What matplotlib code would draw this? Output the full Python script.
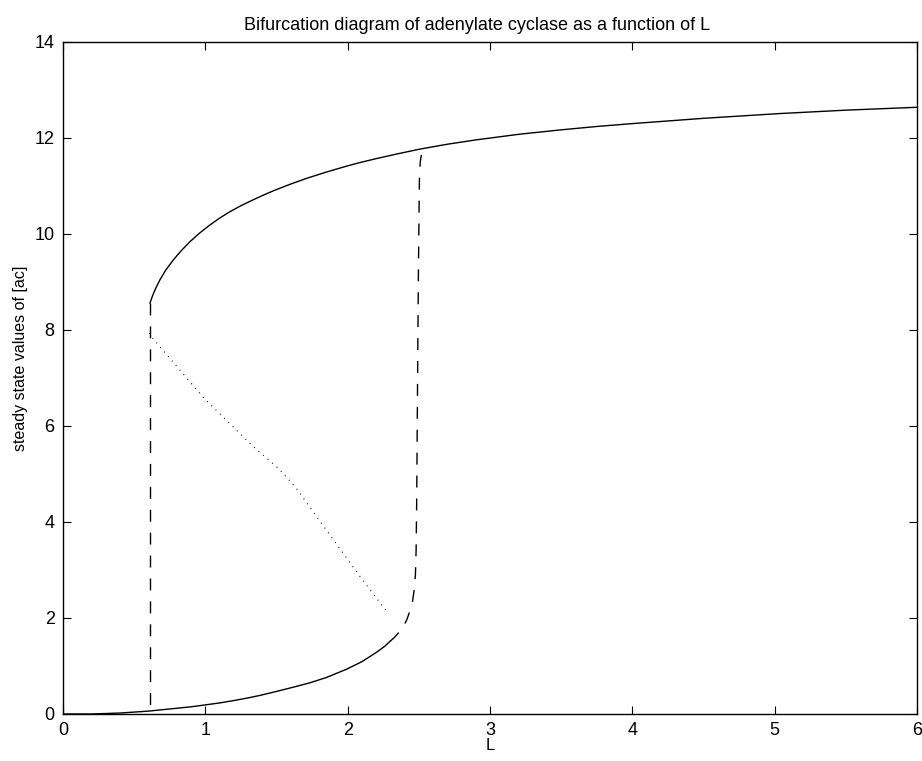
import numpy as np
import matplotlib
matplotlib.use('Agg')
import matplotlib.pyplot as plt

# Lower stable branch (solid)
L_low = [0.0, 0.2, 0.3, 0.4, 0.5, 0.6, 0.7, 0.8, 0.9, 1.0, 1.1, 1.2, 1.3,
         1.38, 1.5, 1.6, 1.735, 1.85, 1.99, 2.1, 2.2, 2.26, 2.3]
ac_low = [0.0, 0.0, 0.01, 0.02, 0.04, 0.06, 0.09, 0.12, 0.15, 0.19, 0.23,
          0.28, 0.335, 0.385, 0.47, 0.545, 0.65, 0.76, 0.93, 1.09, 1.28,
          1.41, 1.52]

# Upper stable branch (solid)
L_up = [0.611, 0.63, 0.65, 0.68, 0.72, 0.775, 0.83, 0.892, 0.96, 1.033,
        1.1, 1.17, 1.244, 1.32, 1.40, 1.478, 1.59, 1.712, 1.85, 2.0, 2.075,
        2.2, 2.35, 2.51, 2.7, 2.9, 3.21, 3.5, 3.75, 4.0, 4.5, 5.04, 5.5, 6.0]
ac_up = [8.56, 8.72, 8.86, 9.04, 9.24, 9.46, 9.65, 9.84, 10.02, 10.19,
         10.33, 10.46, 10.58, 10.69, 10.80, 10.90, 11.03, 11.16, 11.29,
         11.42, 11.48, 11.57, 11.67, 11.77, 11.87, 11.96, 12.08, 12.17,
         12.24, 12.30, 12.41, 12.51, 12.58, 12.64]

# Right jump (dashed), from the lower fold up to the upper branch
L_jump_r = [2.3, 2.33, 2.36, 2.39, 2.415, 2.44, 2.455, 2.468, 2.476, 2.481,
            2.485, 2.49, 2.497, 2.504, 2.51, 2.52, 2.532]
ac_jump_r = [1.52, 1.60, 1.70, 1.82, 1.96, 2.17, 2.33, 2.60, 2.90, 3.42,
             4.46, 6.5, 9.18, 11.13, 11.50, 11.69, 11.78]

# Left jump (dashed), vertical at the left fold
L_jump_l = [0.611, 0.611]
ac_jump_l = [8.56, 0.06]

# Unstable branch (dotted)
L_mid = [0.607, 0.635, 0.99, 1.337, 1.52, 1.64, 1.78, 2.10, 2.284]
ac_mid = [7.94, 7.81, 6.58, 5.57, 5.10, 4.70, 4.12, 2.81, 2.10]

plt.rcParams['font.family'] = ['Liberation Sans', 'DejaVu Sans']
plt.rcParams['lines.scale_dashes'] = False

fig = plt.figure(figsize=(9.22, 7.61), dpi=100)
ax = fig.add_axes([63/922, 47/761, 854/922, 672/761])

ax.plot(L_low, ac_low, color='k', lw=1.0)
ax.plot(L_up, ac_up, color='k', lw=1.0)
ax.plot(L_jump_r, ac_jump_r, color='k', lw=1.0, dashes=(8.6, 7.9))
ax.plot(L_jump_l, ac_jump_l, color='k', lw=1.0, dashes=(8.6, 7.9))
ax.plot(L_mid, ac_mid, color='k', lw=0.8, dashes=(0.7, 3.6))

ax.set_xlim(0, 6)
ax.set_ylim(0, 14)
ax.set_xticks(np.arange(0, 7, 1))
ax.set_yticks(np.arange(0, 15, 2))
ax.tick_params(direction='in', length=5.8, width=0.8, top=True, right=True,
               labelsize=13, pad=6)
for s in ax.spines.values():
    s.set_linewidth(1.0)

ax.set_xlabel('L', fontsize=12, labelpad=-1)
ax.set_ylabel('steady state values of [ac]', fontsize=11.5)
ax.yaxis.set_label_coords(-0.041, 0.53)
ax.set_title('Bifurcation diagram of adenylate cyclase as a function of L',
             fontsize=13, pad=9, x=0.485)

fig.savefig('out.png', dpi=100)
